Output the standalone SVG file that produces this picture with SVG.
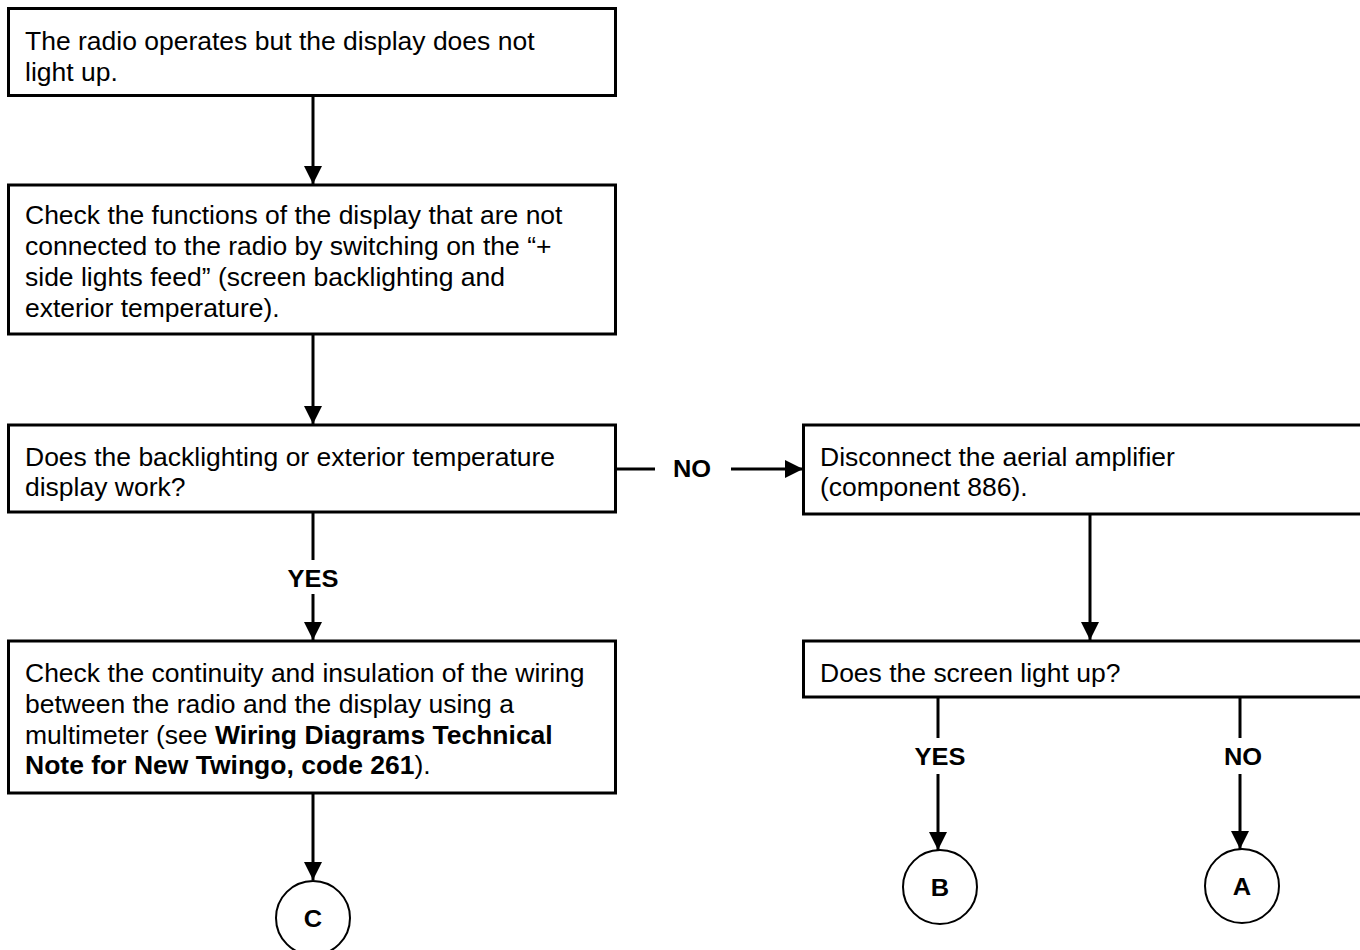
<svg xmlns="http://www.w3.org/2000/svg" width="1360" height="950" viewBox="0 0 1360 950">
<defs>
<style>
.box{fill:#fff;stroke:#000;stroke-width:3}
.circ{fill:#fff;stroke:#000;stroke-width:2}
.t{font-family:"Liberation Sans",Arial,sans-serif;font-size:25px;fill:#000}
.b{font-weight:bold}
.lbl{font-family:"Liberation Sans",Arial,sans-serif;font-size:24px;font-weight:bold;fill:#000;text-anchor:middle}
.c{fill:none;stroke:#000;stroke-width:3}
</style>
<marker id="ah" markerUnits="userSpaceOnUse" markerWidth="18" markerHeight="18" viewBox="0 0 16 16" refX="16" refY="8" orient="auto">
<path d="M0,0 L16,8 L0,16 Z" fill="#000"/>
</marker>
</defs>
<rect width="1360" height="950" fill="#fff"/>

<g id="n1">
<rect class="box" x="8.5" y="8.5" width="607" height="87"/>
<g transform="translate(25,0) scale(1.06,1)">
<text class="t" x="0" y="50">The radio operates but the display does not</text>
<text class="t" x="0" y="81">light up.</text>
</g>
</g>

<g id="n2">
<rect class="box" x="8.5" y="185" width="607" height="149"/>
<g transform="translate(25,0) scale(1.06,1)">
<text class="t" x="0" y="224">Check the functions of the display that are not</text>
<text class="t" x="0" y="255">connected to the radio by switching on the “+</text>
<text class="t" x="0" y="286">side lights feed” (screen backlighting and</text>
<text class="t" x="0" y="317">exterior temperature).</text>
</g>
</g>

<g id="n3">
<rect class="box" x="8.5" y="425" width="607" height="87"/>
<g transform="translate(25,0) scale(1.06,1)">
<text class="t" x="0" y="466">Does the backlighting or exterior temperature</text>
<text class="t" x="0" y="496">display work?</text>
</g>
</g>

<g id="n4">
<rect class="box" x="803.5" y="425" width="570" height="89"/>
<g transform="translate(820,0) scale(1.06,1)">
<text class="t" x="0" y="466">Disconnect the aerial amplifier</text>
<text class="t" x="0" y="496">(component 886).</text>
</g>
</g>

<g id="n5">
<rect class="box" x="803.5" y="641" width="570" height="56"/>
<g transform="translate(820,0) scale(1.06,1)">
<text class="t" x="0" y="682">Does the screen light up?</text>
</g>
</g>

<g id="n6">
<rect class="box" x="8.5" y="641" width="607" height="152"/>
<g transform="translate(25,0) scale(1.06,1)">
<text class="t" x="0" y="682">Check the continuity and insulation of the wiring</text>
<text class="t" x="0" y="713">between the radio and the display using a</text>
<text class="t" x="0" y="744">multimeter (see <tspan class="b">Wiring Diagrams Technical</tspan></text>
<text class="t" x="0" y="774"><tspan class="b">Note for New Twingo, code 261</tspan>).</text>
</g>
</g>

<g id="nC">
<circle class="circ" cx="313" cy="918" r="37"/>
<g transform="translate(313,0) scale(1.06,1)"><text class="lbl" x="0" y="927">C</text></g>
</g>
<g id="nB">
<circle class="circ" cx="940" cy="887" r="37"/>
<g transform="translate(940,0) scale(1.06,1)"><text class="lbl" x="0" y="896">B</text></g>
</g>
<g id="nA">
<circle class="circ" cx="1242" cy="886" r="37"/>
<g transform="translate(1242,0) scale(1.06,1)"><text class="lbl" x="0" y="895">A</text></g>
</g>

<g id="connectors">
<path class="c" d="M313,96 V184" marker-end="url(#ah)"/>
<path class="c" d="M313,334 V424" marker-end="url(#ah)"/>
<path class="c" d="M616,469 H655"/>
<path class="c" d="M731,469 H803" marker-end="url(#ah)"/>
<path class="c" d="M1090,514 V640" marker-end="url(#ah)"/>
<path class="c" d="M313,512 V560"/>
<path class="c" d="M313,594 V640" marker-end="url(#ah)"/>
<path class="c" d="M313,793 V880" marker-end="url(#ah)"/>
<path class="c" d="M938,697 V738"/>
<path class="c" d="M938,774 V850" marker-end="url(#ah)"/>
<path class="c" d="M1240,697 V738"/>
<path class="c" d="M1240,774 V849" marker-end="url(#ah)"/>
<g transform="translate(692,0) scale(1.06,1)"><text class="lbl" x="0" y="477">NO</text></g>
<g transform="translate(313,0) scale(1.06,1)"><text class="lbl" x="0" y="587">YES</text></g>
<g transform="translate(940,0) scale(1.06,1)"><text class="lbl" x="0" y="765">YES</text></g>
<g transform="translate(1243,0) scale(1.06,1)"><text class="lbl" x="0" y="765">NO</text></g>
</g>
</svg>
